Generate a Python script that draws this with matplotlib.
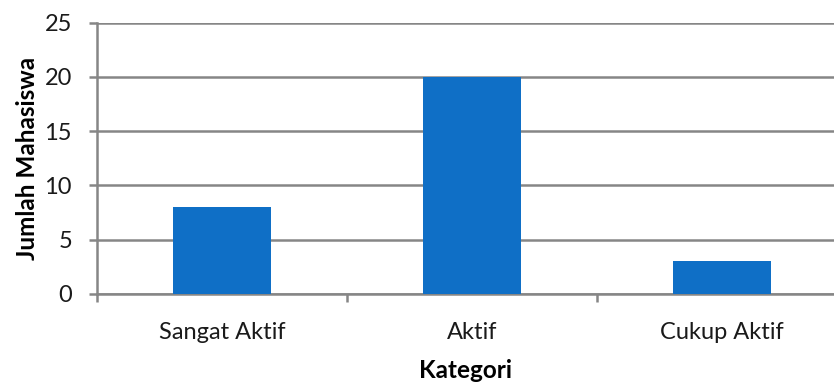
import matplotlib.pyplot as plt

categories = ["Sangat Aktif", "Aktif", "Cukup Aktif"]
values = [8, 20, 3]
yticks = [0, 5, 10, 15, 20, 25]

plt.rcParams['font.family'] = ['Lato', 'DejaVu Sans']

fig = plt.figure(figsize=(8.34, 3.84), dpi=100)
ax = fig.add_axes([97 / 834, 1 - 294 / 384, 737 / 834, 271.5 / 384])

grey = "#868686"
x = range(len(categories))
ax.bar(x, values, width=0.39, color="#0f6fc6", zorder=3)

ax.set_ylim(0, 25)
ax.set_yticks(yticks)
ax.set_xlim(-0.5, 2.5 - 13 / 250)
ax.grid(axis="y", color=grey, linewidth=1.8, zorder=0)
ax.set_axisbelow(True)

for s in ["top", "right"]:
    ax.spines[s].set_visible(False)
for s in ["left", "bottom"]:
    ax.spines[s].set_color(grey)
    ax.spines[s].set_linewidth(1.8)

# category labels centred, tick marks at category boundaries
ax.set_xticks([-0.5, 0.5, 1.5])
ax.set_xticklabels([])
ax.set_xticks(list(x), minor=True)
ax.set_xticklabels(categories, minor=True, fontsize=17, color="#1a1a1a")
ax.tick_params(axis="x", which="minor", length=0, pad=20)
ax.tick_params(axis="x", which="major", length=6, width=1.8, color=grey)
ax.tick_params(axis="y", length=6, width=1.8, color=grey, labelsize=17,
               labelcolor="#1a1a1a", pad=12)

ax.set_ylabel("Jumlah Mahasiswa", fontsize=17.5, fontweight="bold", labelpad=4)
ax.set_xlabel("Kategori", fontsize=17.5, fontweight="bold", labelpad=12)

fig.savefig("out.png", dpi=100)
